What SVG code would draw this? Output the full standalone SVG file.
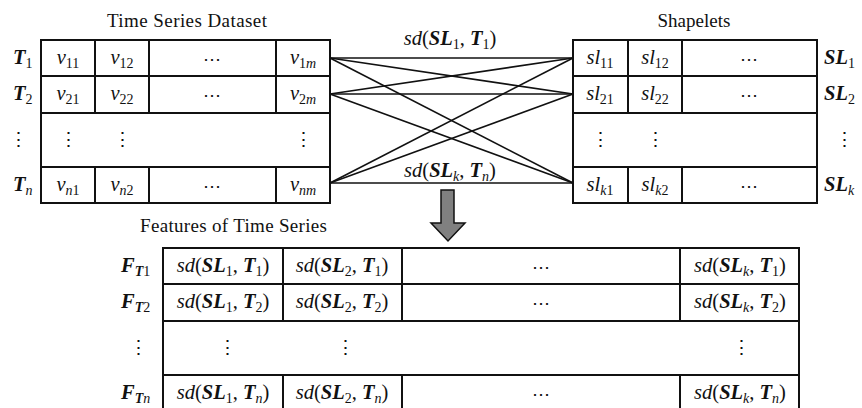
<svg xmlns="http://www.w3.org/2000/svg" width="862" height="408" viewBox="0 0 862 408">
<style>
text{font-family:"Liberation Serif","Times New Roman",serif;font-size:20.5px;fill:#111}
.ttl{font-size:19px}
.t{text-anchor:middle}
.it{font-style:italic}
.bi{font-style:italic;font-weight:bold}
.sub{font-size:14px;font-style:normal;font-weight:normal}
.subi{font-size:14px;font-style:italic;font-weight:normal}
.subb{font-size:14px;font-style:italic;font-weight:bold}
.box{fill:#fff;stroke:#111;stroke-width:2}
.ln{stroke:#111;stroke-width:2;fill:none}
.cn{stroke:#111;stroke-width:1.6;fill:none}
.dots{font-size:19px;text-anchor:middle}
.hd{font-size:18px;text-anchor:middle}
</style>
<rect width="862" height="408" fill="#fff"/>

<g id="connectors">
<line class="cn" x1="330" y1="58" x2="573" y2="58"/>
<line class="cn" x1="330" y1="58" x2="573" y2="94"/>
<line class="cn" x1="330" y1="58" x2="573" y2="183"/>
<line class="cn" x1="330" y1="94" x2="573" y2="58"/>
<line class="cn" x1="330" y1="94" x2="573" y2="94"/>
<line class="cn" x1="330" y1="94" x2="573" y2="183"/>
<line class="cn" x1="330" y1="183" x2="573" y2="58"/>
<line class="cn" x1="330" y1="183" x2="573" y2="94"/>
<line class="cn" x1="330" y1="183" x2="573" y2="183"/>
</g>

<g id="connector-labels">
<text class="t" x="450" y="45"><tspan class="it">sd</tspan>(<tspan class="bi">SL</tspan><tspan class="sub" dy="4">1</tspan><tspan dy="-4">, </tspan><tspan class="bi">T</tspan><tspan class="sub" dy="4">1</tspan><tspan dy="-4">)</tspan></text>
<text class="t" x="450" y="177"><tspan class="it">sd</tspan>(<tspan class="bi">SL</tspan><tspan class="subi" dy="4">k</tspan><tspan dy="-4">, </tspan><tspan class="bi">T</tspan><tspan class="subi" dy="4">n</tspan><tspan dy="-4">)</tspan></text>
</g>

<g id="time-series-dataset">
<text class="t ttl" x="187" y="27" textLength="160">Time Series Dataset</text>
<rect class="box" x="41" y="40" width="289" height="163"/>
<line class="ln" x1="41" y1="76" x2="330" y2="76"/>
<line class="ln" x1="41" y1="113" x2="330" y2="113"/>
<line class="ln" x1="41" y1="167" x2="330" y2="167"/>
<line class="ln" x1="95" y1="40" x2="95" y2="113"/>
<line class="ln" x1="149" y1="40" x2="149" y2="113"/>
<line class="ln" x1="276" y1="40" x2="276" y2="113"/>
<line class="ln" x1="95" y1="167" x2="95" y2="203"/>
<line class="ln" x1="149" y1="167" x2="149" y2="203"/>
<line class="ln" x1="276" y1="167" x2="276" y2="203"/>
<text x="13" y="64"><tspan class="bi">T</tspan><tspan class="sub" dy="4">1</tspan></text>
<text x="13" y="100"><tspan class="bi">T</tspan><tspan class="sub" dy="4">2</tspan></text>
<text class="dots" x="18" y="146">⋮</text>
<text x="13" y="191"><tspan class="bi">T</tspan><tspan class="subi" dy="4">n</tspan></text>
<text class="t" x="68" y="64"><tspan class="it">v</tspan><tspan class="sub" dy="4">11</tspan></text>
<text class="t" x="122" y="64"><tspan class="it">v</tspan><tspan class="sub" dy="4">12</tspan></text>
<text class="hd" x="212" y="65">⋯</text>
<text class="t" x="303" y="64"><tspan class="it">v</tspan><tspan class="sub" dy="4">1</tspan><tspan class="subi">m</tspan></text>
<text class="t" x="68" y="100"><tspan class="it">v</tspan><tspan class="sub" dy="4">21</tspan></text>
<text class="t" x="122" y="100"><tspan class="it">v</tspan><tspan class="sub" dy="4">22</tspan></text>
<text class="hd" x="212" y="101">⋯</text>
<text class="t" x="303" y="100"><tspan class="it">v</tspan><tspan class="sub" dy="4">2</tspan><tspan class="subi">m</tspan></text>
<text class="dots" x="68" y="146">⋮</text>
<text class="dots" x="122" y="146">⋮</text>
<text class="dots" x="303" y="146">⋮</text>
<text class="t" x="68" y="191"><tspan class="it">v</tspan><tspan class="subi" dy="4">n</tspan><tspan class="sub">1</tspan></text>
<text class="t" x="122" y="191"><tspan class="it">v</tspan><tspan class="subi" dy="4">n</tspan><tspan class="sub">2</tspan></text>
<text class="hd" x="212" y="192">⋯</text>
<text class="t" x="303" y="191"><tspan class="it">v</tspan><tspan class="subi" dy="4">nm</tspan></text>
</g>

<g id="shapelets">
<text class="t ttl" x="694" y="27" textLength="73">Shapelets</text>
<rect class="box" x="573" y="40" width="244" height="163"/>
<line class="ln" x1="573" y1="76" x2="817" y2="76"/>
<line class="ln" x1="573" y1="113" x2="817" y2="113"/>
<line class="ln" x1="573" y1="167" x2="817" y2="167"/>
<line class="ln" x1="628" y1="40" x2="628" y2="113"/>
<line class="ln" x1="682" y1="40" x2="682" y2="113"/>
<line class="ln" x1="628" y1="167" x2="628" y2="203"/>
<line class="ln" x1="682" y1="167" x2="682" y2="203"/>
<text class="t" x="600" y="64"><tspan class="it">sl</tspan><tspan class="sub" dy="4">11</tspan></text>
<text class="t" x="655" y="64"><tspan class="it">sl</tspan><tspan class="sub" dy="4">12</tspan></text>
<text class="hd" x="749" y="65">⋯</text>
<text class="t" x="600" y="100"><tspan class="it">sl</tspan><tspan class="sub" dy="4">21</tspan></text>
<text class="t" x="655" y="100"><tspan class="it">sl</tspan><tspan class="sub" dy="4">22</tspan></text>
<text class="hd" x="749" y="101">⋯</text>
<text class="dots" x="600" y="146">⋮</text>
<text class="dots" x="655" y="146">⋮</text>
<text class="t" x="600" y="191"><tspan class="it">sl</tspan><tspan class="subi" dy="4">k</tspan><tspan class="sub">1</tspan></text>
<text class="t" x="655" y="191"><tspan class="it">sl</tspan><tspan class="subi" dy="4">k</tspan><tspan class="sub">2</tspan></text>
<text class="hd" x="749" y="192">⋯</text>
<text x="824" y="64"><tspan class="bi">SL</tspan><tspan class="sub" dy="4">1</tspan></text>
<text x="824" y="100"><tspan class="bi">SL</tspan><tspan class="sub" dy="4">2</tspan></text>
<text class="dots" x="844" y="146">⋮</text>
<text x="824" y="191"><tspan class="bi">SL</tspan><tspan class="subi" dy="4">k</tspan></text>
</g>

<g id="arrow">
<path d="M441,190 H454 V223 H465 L448,241 L431,223 H441 Z" fill="#808080" stroke="#111" stroke-width="1.5" stroke-linejoin="miter"/>
</g>

<g id="features">
<text class="ttl" x="140" y="232" textLength="187">Features of Time Series</text>
<rect class="box" x="163" y="248" width="636" height="164"/>
<line class="ln" x1="163" y1="284" x2="799" y2="284"/>
<line class="ln" x1="163" y1="321" x2="799" y2="321"/>
<line class="ln" x1="163" y1="375" x2="799" y2="375"/>
<line class="ln" x1="283" y1="248" x2="283" y2="321"/>
<line class="ln" x1="402" y1="248" x2="402" y2="321"/>
<line class="ln" x1="680" y1="248" x2="680" y2="321"/>
<line class="ln" x1="283" y1="375" x2="283" y2="412"/>
<line class="ln" x1="402" y1="375" x2="402" y2="412"/>
<line class="ln" x1="680" y1="375" x2="680" y2="412"/>
<text x="121" y="272"><tspan class="bi">F</tspan><tspan class="subb" dy="4">T</tspan><tspan class="sub">1</tspan></text>
<text x="121" y="308"><tspan class="bi">F</tspan><tspan class="subb" dy="4">T</tspan><tspan class="sub">2</tspan></text>
<text class="dots" x="138" y="354">⋮</text>
<text x="121" y="399"><tspan class="bi">F</tspan><tspan class="subb" dy="4">T</tspan><tspan class="subi">n</tspan></text>

<text class="t" x="223" y="272"><tspan class="it">sd</tspan>(<tspan class="bi">SL</tspan><tspan class="sub" dy="4">1</tspan><tspan dy="-4">, </tspan><tspan class="bi">T</tspan><tspan class="sub" dy="4">1</tspan><tspan dy="-4">)</tspan></text>
<text class="t" x="342" y="272"><tspan class="it">sd</tspan>(<tspan class="bi">SL</tspan><tspan class="sub" dy="4">2</tspan><tspan dy="-4">, </tspan><tspan class="bi">T</tspan><tspan class="sub" dy="4">1</tspan><tspan dy="-4">)</tspan></text>
<text class="hd" x="541" y="273">⋯</text>
<text class="t" x="740" y="272"><tspan class="it">sd</tspan>(<tspan class="bi">SL</tspan><tspan class="subi" dy="4">k</tspan><tspan dy="-4">, </tspan><tspan class="bi">T</tspan><tspan class="sub" dy="4">1</tspan><tspan dy="-4">)</tspan></text>

<text class="t" x="223" y="308"><tspan class="it">sd</tspan>(<tspan class="bi">SL</tspan><tspan class="sub" dy="4">1</tspan><tspan dy="-4">, </tspan><tspan class="bi">T</tspan><tspan class="sub" dy="4">2</tspan><tspan dy="-4">)</tspan></text>
<text class="t" x="342" y="308"><tspan class="it">sd</tspan>(<tspan class="bi">SL</tspan><tspan class="sub" dy="4">2</tspan><tspan dy="-4">, </tspan><tspan class="bi">T</tspan><tspan class="sub" dy="4">2</tspan><tspan dy="-4">)</tspan></text>
<text class="hd" x="541" y="309">⋯</text>
<text class="t" x="740" y="308"><tspan class="it">sd</tspan>(<tspan class="bi">SL</tspan><tspan class="subi" dy="4">k</tspan><tspan dy="-4">, </tspan><tspan class="bi">T</tspan><tspan class="sub" dy="4">2</tspan><tspan dy="-4">)</tspan></text>

<text class="dots" x="227" y="354">⋮</text>
<text class="dots" x="345" y="354">⋮</text>
<text class="dots" x="741" y="354">⋮</text>

<text class="t" x="223" y="399"><tspan class="it">sd</tspan>(<tspan class="bi">SL</tspan><tspan class="sub" dy="4">1</tspan><tspan dy="-4">, </tspan><tspan class="bi">T</tspan><tspan class="subi" dy="4">n</tspan><tspan dy="-4">)</tspan></text>
<text class="t" x="342" y="399"><tspan class="it">sd</tspan>(<tspan class="bi">SL</tspan><tspan class="sub" dy="4">2</tspan><tspan dy="-4">, </tspan><tspan class="bi">T</tspan><tspan class="subi" dy="4">n</tspan><tspan dy="-4">)</tspan></text>
<text class="hd" x="541" y="400">⋯</text>
<text class="t" x="740" y="399"><tspan class="it">sd</tspan>(<tspan class="bi">SL</tspan><tspan class="subi" dy="4">k</tspan><tspan dy="-4">, </tspan><tspan class="bi">T</tspan><tspan class="subi" dy="4">n</tspan><tspan dy="-4">)</tspan></text>
</g>
</svg>
